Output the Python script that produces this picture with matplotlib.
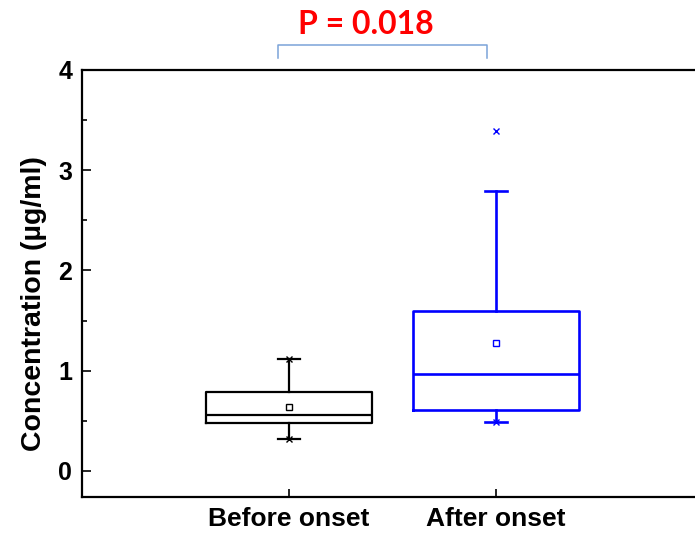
import matplotlib
matplotlib.use("Agg")
import matplotlib.pyplot as plt
from matplotlib.ticker import MultipleLocator

# -------------------------------
# Box statistics
# -------------------------------
groups = ["Before onset", "After onset"]
q1 = [0.48, 0.61]
q3 = [0.79, 1.60]
medians = [0.555, 0.97]
means = [0.635, 1.275]
whisk_lo = [0.32, 0.49]
whisk_hi = [1.115, 2.79]
extremes = [[0.32, 1.115], [0.49, 3.39]]   # min / max crosses
box_colors = ["black", "#0000FF"]
p_text = "P = 0.018"

plt.rcParams["font.family"] = ["Liberation Sans", "DejaVu Sans"]
plt.rcParams["font.weight"] = "bold"

fig = plt.figure(figsize=(6.95, 5.33), dpi=100)
ax = fig.add_axes([82 / 695, 1 - 497 / 533, 621 / 695, 427 / 533])

for i, name in enumerate(groups):
    stats = [{
        "label": name,
        "med": medians[i],
        "q1": q1[i],
        "q3": q3[i],
        "whislo": whisk_lo[i],
        "whishi": whisk_hi[i],
        "mean": means[i],
        "fliers": extremes[i],
    }]
    c = box_colors[i]
    lw = 1.6 if i == 0 else 1.9
    ax.bxp(stats, positions=[i + 1], widths=0.8, capwidths=0.11,
           showmeans=True, showfliers=True,
           boxprops=dict(color=c, linewidth=lw),
           medianprops=dict(color=c, linewidth=lw),
           whiskerprops=dict(color=c, linewidth=lw),
           capprops=dict(color=c, linewidth=lw),
           meanprops=dict(marker="s", markersize=4, markerfacecolor="white",
                          markeredgecolor=c, markeredgewidth=1),
           flierprops=dict(marker="x", markersize=5, markeredgecolor=c,
                           markeredgewidth=1))

ax.set_xlim(0, 3)
ax.set_ylim(-0.26, 4)
ax.set_xticks([1, 2])
ax.set_xticklabels(groups, fontsize=19, fontweight="bold")
ax.set_yticks([0, 1, 2, 3, 4])
ax.yaxis.set_minor_locator(MultipleLocator(0.5))
ax.tick_params(axis="y", which="major", direction="in", length=6.5, width=1.2,
               labelsize=18, pad=7)
ax.tick_params(axis="y", which="minor", direction="in", length=3.8, width=1.2)
ax.tick_params(axis="x", which="major", direction="in", length=6, width=1.2, pad=7)
ax.set_ylabel("Concentration (µg/ml)", fontsize=20.5, fontweight="bold")
ax.yaxis.set_label_coords(-0.057, 0.453)

for side in ["left", "bottom", "top"]:
    ax.spines[side].set_linewidth(1.6)
ax.spines["right"].set_visible(False)

# significance bracket
ax.plot([0.945, 0.945, 1.955, 1.955], [4.12, 4.25, 4.25, 4.12],
        color="#7BA3D8", linewidth=1.1, clip_on=False)
ax.text(1.37, 4.355, p_text, color="#FF0000", fontsize=23, fontweight="bold",
        family=["Lato", "DejaVu Sans"], ha="center", va="baseline")

fig.savefig("out.png", dpi=100)
